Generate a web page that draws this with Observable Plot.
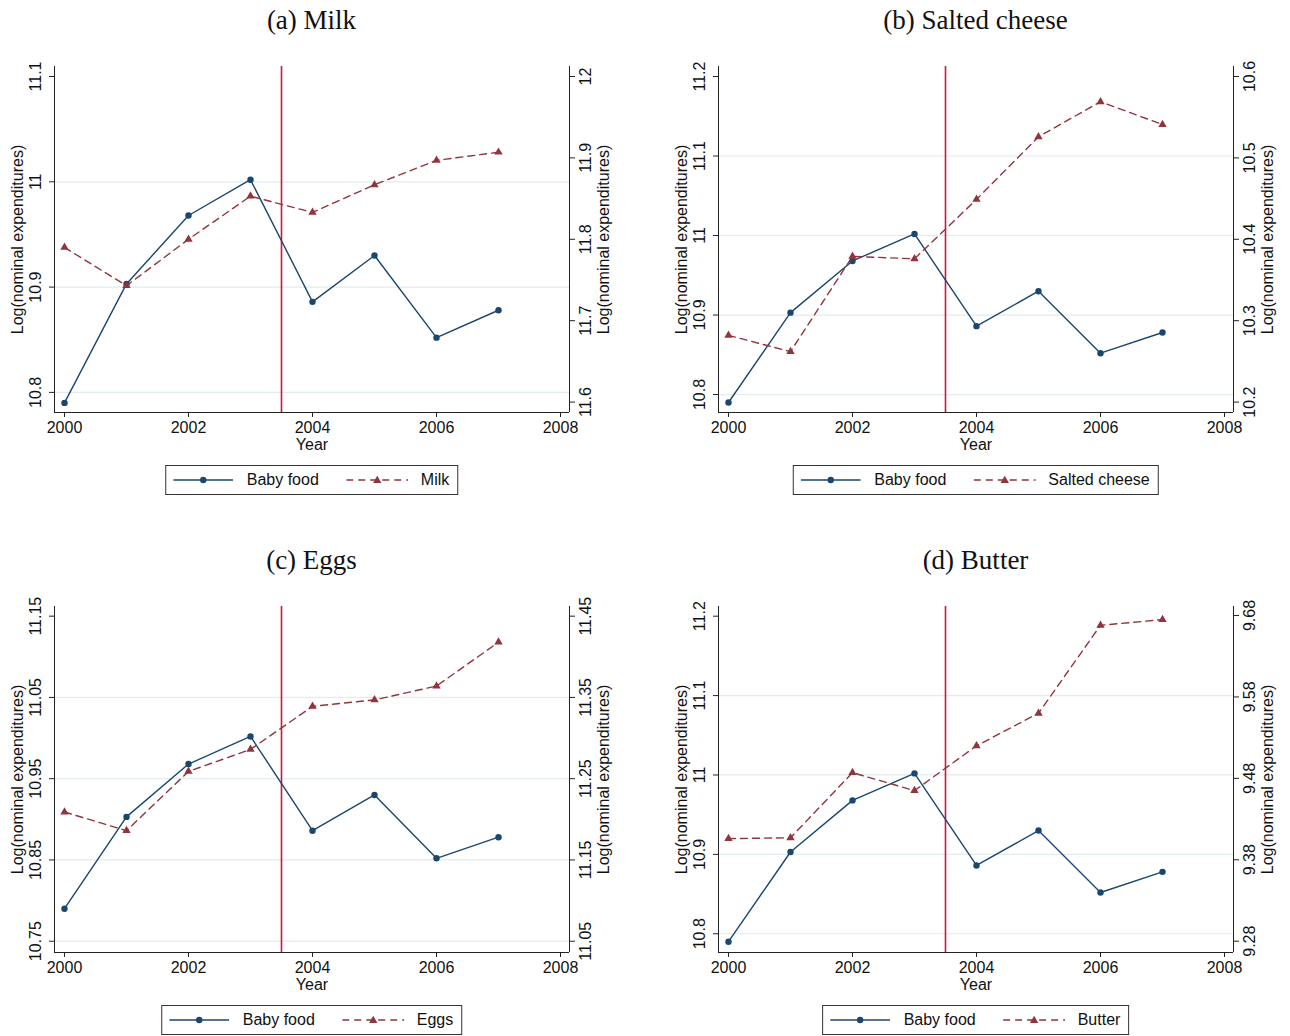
<!DOCTYPE html>
<html>
<head>
<meta charset="utf-8">
<script src="https://cdn.jsdelivr.net/npm/d3@7"></script>
<script src="https://cdn.jsdelivr.net/npm/@observablehq/plot@0.6"></script>
<style>
  body { margin: 0; background: #fff; }
  #root { position: relative; width: 1290px; height: 1036px; overflow: hidden; background: #fff; }
  .title { position: absolute; font-family: "Liberation Serif", "DejaVu Serif", serif; font-size: 27px; line-height: 30px; color: #111; transform: translateX(-50%); white-space: nowrap; }
  .panel { position: absolute; }
  .panel svg { position: absolute; left: 0; top: 0; }
  .legend { position: absolute; transform: translateX(-50%); border: 1px solid #333; height: 30px; display: flex; align-items: center; padding: 0 8px 0 7px; font-family: "Liberation Sans", Arial, sans-serif; font-size: 16px; color: #111; white-space: nowrap; box-sizing: border-box; background: #fff; }
  .legend svg { display: block; }
</style>
</head>
<body>
<div id="root"></div>
<script>
// ---------------- data ----------------
const years = [2000, 2001, 2002, 2003, 2004, 2005, 2006, 2007];
const babyFood = [10.790, 10.903, 10.968, 11.002, 10.886, 10.930, 10.852, 10.878];
const milk = [11.790, 11.743, 11.800, 11.853, 11.833, 11.867, 11.897, 11.907];
const saltedCheese = [10.282, 10.262, 10.379, 10.376, 10.449, 10.526, 10.569, 10.541];
const eggs = [11.209, 11.186, 11.259, 11.286, 11.339, 11.347, 11.364, 11.418];
const butter = [9.406, 9.407, 9.487, 9.465, 9.520, 9.560, 9.668, 9.675];

const cutoffYear = [2003.5];
const xTicks = [2000, 2002, 2004, 2006, 2008];
const xDomain = [1999.839, 2008.145];

const milkLeftTicks = [10.8, 10.9, 11, 11.1];
const milkRightTicks = [11.6, 11.7, 11.8, 11.9, 12];
const milkLeftDomain = [10.7809, 11.1095];
const milkRightDomain = [11.5872, 12.0123];

const cheeseLeftTicks = [10.8, 10.9, 11, 11.1, 11.2];
const cheeseRightTicks = [10.2, 10.3, 10.4, 10.5, 10.6];
const cheeseLeftDomain = [10.7774, 11.2126];
const cheeseRightDomain = [10.1872, 10.6123];

const eggsLeftTicks = [10.75, 10.85, 10.95, 11.05, 11.15];
const eggsRightTicks = [11.05, 11.15, 11.25, 11.35, 11.45];
const eggsLeftDomain = [10.7361, 11.1619];
const eggsRightDomain = [11.0361, 11.4619];

const butterLeftTicks = [10.8, 10.9, 11, 11.1, 11.2];
const butterRightTicks = [9.28, 9.38, 9.48, 9.58, 9.68];
const butterLeftDomain = [10.7764, 11.2122];
const butterRightDomain = [9.2661, 9.6911];

const titles = ["(a) Milk", "(b) Salted cheese", "(c) Eggs", "(d) Butter"];
const seriesNames = ["Milk", "Salted cheese", "Eggs", "Butter"];
const baseName = "Baby food";
const yTitle = "Log(nominal expenditures)";
const xTitle = "Year";

// ---------------- styles ----------------
const NAVY = "#1a476f";
const MAROON = "#90353b";
const RED = "#d4143e";
const GRID = "#e2ebee";
const AX = "#222";
const TXT = "#111";
const SANS = "'Liberation Sans', Arial, sans-serif";
const W = 640, H = 420, ML = 54, MR = 71, MT = 26, MB = 48;

const panels = [
  {title: titles[0], name: seriesNames[0], values: milk, lt: milkLeftTicks, rt: milkRightTicks, ld: milkLeftDomain, rd: milkRightDomain, left: 0, top: 40},
  {title: titles[1], name: seriesNames[1], values: saltedCheese, lt: cheeseLeftTicks, rt: cheeseRightTicks, ld: cheeseLeftDomain, rd: cheeseRightDomain, left: 664, top: 40},
  {title: titles[2], name: seriesNames[2], values: eggs, lt: eggsLeftTicks, rt: eggsRightTicks, ld: eggsLeftDomain, rd: eggsRightDomain, left: 0, top: 580},
  {title: titles[3], name: seriesNames[3], values: butter, lt: butterLeftTicks, rt: butterRightTicks, ld: butterLeftDomain, rd: butterRightDomain, left: 664, top: 580}
];

const fmt = d => String(d);
const baseRows = years.map((year, i) => ({year, value: babyFood[i]}));
const root = document.getElementById("root");

function common(extra) {
  return Object.assign({
    width: W, height: H,
    marginLeft: ML, marginRight: MR, marginTop: MT, marginBottom: MB,
    style: {background: "transparent", fontFamily: SANS, fontSize: "16px", color: TXT, overflow: "visible"}
  }, extra);
}

panels.forEach(p => {
  const rows = years.map((year, i) => ({year, value: p.values[i]}));

  const leftPlot = Plot.plot(common({
    x: {domain: xDomain},
    y: {domain: p.ld},
    marks: [
      Plot.ruleY(p.lt.slice(0, -1), {stroke: GRID, strokeWidth: 1.2}),
      Plot.ruleX(cutoffYear, {stroke: RED, strokeWidth: 1.6}),
      Plot.line(baseRows, {x: "year", y: "value", stroke: NAVY, strokeWidth: 1.4}),
      Plot.dot(baseRows, {x: "year", y: "value", r: 3.2, fill: NAVY}),
      Plot.ruleX([xDomain[0]], {stroke: AX, strokeWidth: 1}),
      Plot.ruleY([p.ld[0]], {stroke: AX, strokeWidth: 1}),
      Plot.axisY(p.lt, {anchor: "left", tickSize: 5, stroke: AX, fill: "none"}),
      Plot.axisX(xTicks, {anchor: "bottom", tickSize: 5, tickPadding: 4, tickFormat: fmt, label: null, stroke: AX, fill: TXT, fontSize: 16}),
      Plot.text(p.lt, {y: d => d, text: fmt, frameAnchor: "left", rotate: -90, textAnchor: "middle", lineAnchor: "bottom", dx: -14, fill: TXT, fontSize: 16}),
      Plot.text([yTitle], {text: d => d, frameAnchor: "left", rotate: -90, textAnchor: "middle", lineAnchor: "bottom", dx: -32, fill: TXT, fontSize: 16}),
      Plot.text([xTitle], {text: d => d, frameAnchor: "bottom", textAnchor: "middle", lineAnchor: "top", dy: 26, fill: TXT, fontSize: 16})
    ]
  }));

  const rightPlot = Plot.plot(common({
    x: {domain: xDomain, axis: null},
    y: {domain: p.rd},
    marks: [
      Plot.line(rows, {x: "year", y: "value", stroke: MAROON, strokeWidth: 1.4, strokeDasharray: "7,5"}),
      Plot.dot(rows, {x: "year", y: "value", symbol: "triangle", r: 3.1, fill: MAROON}),
      Plot.ruleX([xDomain[1]], {stroke: AX, strokeWidth: 1}),
      Plot.axisY(p.rt, {anchor: "right", tickSize: 5, stroke: AX, fill: "none"}),
      Plot.text(p.rt, {y: d => d, text: fmt, frameAnchor: "right", rotate: -90, textAnchor: "middle", lineAnchor: "top", dx: 10, fill: TXT, fontSize: 16}),
      Plot.text([yTitle], {text: d => d, frameAnchor: "right", rotate: -90, textAnchor: "middle", lineAnchor: "top", dx: 28, fill: TXT, fontSize: 16})
    ]
  }));

  const wrap = document.createElement("div");
  wrap.className = "panel";
  wrap.style.left = p.left + "px";
  wrap.style.top = p.top + "px";
  wrap.style.width = W + "px";
  wrap.style.height = H + "px";
  wrap.appendChild(leftPlot);
  wrap.appendChild(rightPlot);
  root.appendChild(wrap);

  const cx = p.left + ML + (W - ML - MR) / 2;

  const t = document.createElement("div");
  t.className = "title";
  t.textContent = p.title;
  t.style.left = cx + "px";
  t.style.top = (p.top - 35) + "px";
  root.appendChild(t);

  const tri = d3.symbol(d3.symbolTriangle, Math.PI * 3.1 * 3.1)();
  const lg = document.createElement("div");
  lg.className = "legend";
  lg.style.left = cx + "px";
  lg.style.top = (p.top + 425) + "px";
  lg.innerHTML =
    `<svg width="60" height="14" style="margin-right:14px"><line x1="0" x2="60" y1="7" y2="7" stroke="${NAVY}" stroke-width="1.4"/><circle cx="30" cy="7" r="3.2" fill="${NAVY}"/></svg>` +
    `<span style="margin-right:27px">${baseName}</span>` +
    `<svg width="62" height="14" style="margin-right:13px"><line x1="0" x2="62" y1="7" y2="7" stroke="${MAROON}" stroke-width="1.4" stroke-dasharray="7,5"/><path d="${tri}" transform="translate(31,7.5)" fill="${MAROON}"/></svg>` +
    `<span>${p.name}</span>`;
  root.appendChild(lg);
});
</script>
</body>
</html>
